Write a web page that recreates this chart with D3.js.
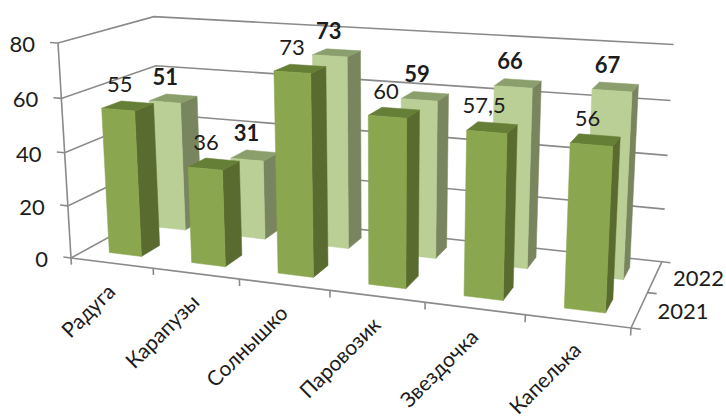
<!DOCTYPE html>
<html>
<head>
<meta charset="utf-8">
<script src="https://cdn.jsdelivr.net/npm/d3@7"></script>
<style>
  html, body { margin: 0; padding: 0; background: #fff; }
  svg { display: block; }
  text { font-family: Lato, "Open Sans", sans-serif; fill: #1c1c1c; }
</style>
</head>
<body>
<svg id="chart" width="726" height="419"></svg>
<script>
const categories = ['Радуга', 'Карапузы', 'Солнышко', 'Паровозик', 'Звездочка', 'Капелька'];
const series = ['2021', '2022'];
const values2021 = [55, 36, 73, 60, 57.5, 56];
const values2022 = [51, 31, 73, 59, 66, 67];
const valueTicks = [0, 20, 40, 60, 80];

const svg = d3.select('#chart');

// Chart space is a unit box: u along categories, v into the page, w up.
const xScale = d3.scaleBand().domain(categories).range([0, 1]).paddingInner(0.604).paddingOuter(0.29);
const zScale = d3.scaleBand().domain(series).range([0, 1]).paddingInner(0.6).paddingOuter(0.3);
const yScale = d3.scaleLinear().domain([0, 80]).range([0, 1]);

// Perspective: images of the box corners plus the depth terms of the divisor
const cam = {
  o: [71, 258], u: [631, 328], v: [162, 208], w: [58, 43],
  p: -0.14, q: 0.129, r: -0.04
};

function project(u, v, w) {
  let d = 1 + cam.p * u + cam.q * v + cam.r * w;
  let at = i => cam.o[i]
    + (cam.u[i] * (1 + cam.p) - cam.o[i]) * u
    + (cam.v[i] * (1 + cam.q) - cam.o[i]) * v
    + (cam.w[i] * (1 + cam.r) - cam.o[i]) * w;
  return [at(0) / d, at(1) / d];
}

const line = d3.line();
const gridColor = '#8a8a8a';

function stroke(points) {
  svg.append('path')
    .attr('d', line(points.map(p => project(...p))))
    .attr('fill', 'none')
    .attr('stroke', gridColor)
    .attr('stroke-width', 1.6);
}

// walls
valueTicks.forEach(t => {
  let w = yScale(t);
  stroke([[-0.016, 0, w], [0, 0, w], [0, 1, w], [1, 1, w]]);
});
stroke([[0, 0, 0], [0, 0, 1]]);

// floor
stroke([[0, 0, 0], [1, 0, 0], [1, 1, 0]]);
stroke([[1, 1, 0], [1.015, 1, 0]]);
stroke([[1, 0.5, 0], [1.015, 0.5, 0]]);
stroke([[1, 0, 0], [1.015, 0, 0]]);
d3.range(categories.length + 1).forEach(i => {
  stroke([[i / categories.length, 0, 0], [i / categories.length, 0, -0.032]]);
});

// bars, back row first
const rows = [
  { name: '2022', values: values2022, front: '#b9cf95', side: '#78855f', top: '#8b9f6d', weight: 'bold' },
  { name: '2021', values: values2021, front: '#8aa64f', side: '#5a6b2f', top: '#667f36', weight: 'normal' }
];

rows.forEach(row => {
  let v0 = zScale(row.name), v1 = v0 + zScale.bandwidth();
  categories.forEach((cat, i) => {
    let u0 = xScale(cat), u1 = u0 + xScale.bandwidth();
    let h = yScale(row.values[i]);
    let faces = [
      [row.side, [[u1, v0, 0], [u1, v1, 0], [u1, v1, h], [u1, v0, h]]],
      [row.top, [[u0, v0, h], [u1, v0, h], [u1, v1, h], [u0, v1, h]]],
      [row.front, [[u0, v0, 0], [u1, v0, 0], [u1, v0, h], [u0, v0, h]]]
    ];
    faces.forEach(f => {
      svg.append('path')
        .attr('d', line(f[1].map(p => project(...p))) + 'Z')
        .attr('fill', f[0])
        .attr('stroke', f[0])
        .attr('stroke-width', 0.5);
    });
  });
});

// data labels go on top of everything
rows.forEach(row => {
  let v = zScale(row.name) + zScale.bandwidth() / 2;
  categories.forEach((cat, i) => {
    let p = project(xScale(cat) + xScale.bandwidth() / 2, v, yScale(row.values[i]));
    svg.append('text')
      .attr('x', p[0] - 8)
      .attr('y', p[1] - 14)
      .attr('text-anchor', 'middle')
      .attr('font-size', 22)
      .attr('font-weight', row.weight)
      .text(String(row.values[i]).replace('.', ','));
  });
});

// value axis labels
valueTicks.forEach(t => {
  let p = project(0, 0, yScale(t));
  svg.append('text')
    .attr('x', p[0] - 23)
    .attr('y', p[1] + 9)
    .attr('text-anchor', 'end')
    .attr('font-size', 22)
    .text(t);
});

// category labels, rotated
categories.forEach((cat, i) => {
  let p = project((i + 0.5) / categories.length, 0, 0);
  svg.append('text')
    .attr('transform', `translate(${p[0] + 5},${p[1] + 30}) rotate(-45)`)
    .attr('text-anchor', 'end')
    .attr('font-size', 21)
    .text(cat);
});

// series labels
series.forEach(s => {
  let p = project(1, zScale(s) + zScale.bandwidth() / 2, 0);
  svg.append('text')
    .attr('x', p[0] + 18)
    .attr('y', p[1] + 9)
    .attr('font-size', 22)
    .text(s);
});
</script>
</body>
</html>
